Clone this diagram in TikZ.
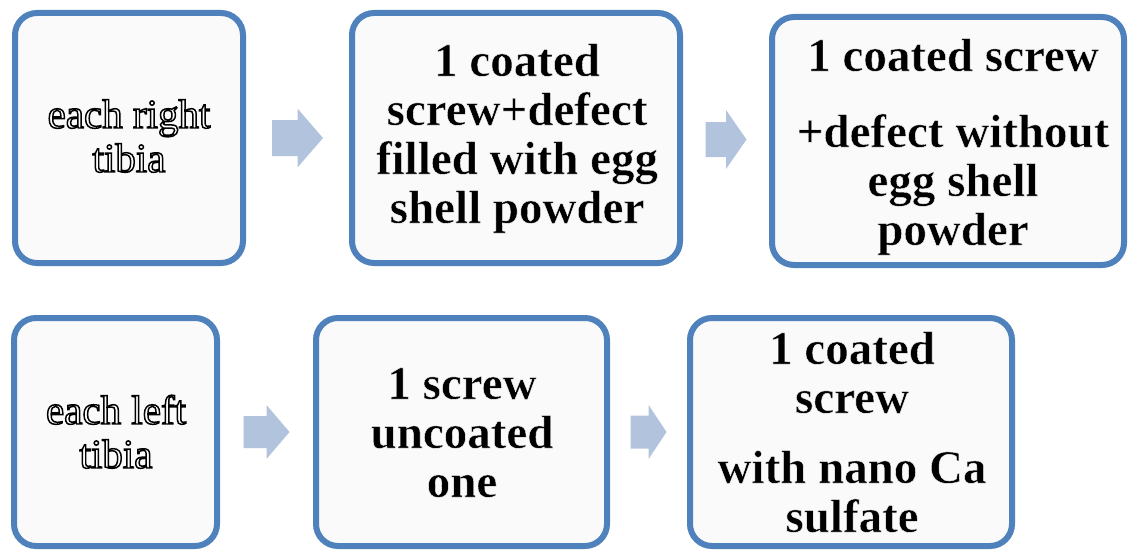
\documentclass[tikz,border=0pt]{standalone}
\usepackage{fontspec}
\setmainfont{Liberation Serif}
\usetikzlibrary{calc}
\definecolor{cardblue}{RGB}{79,129,189}
\definecolor{cardfill}{RGB}{250,250,250}
\definecolor{arrowfill}{RGB}{178,195,222}
% white glyphs with a black rim
\newcommand{\hollow}[1]{\special{pdf:bcolor [1] [0]}#1\special{pdf:ecolor}}
% black glyphs with a white rim
\newcommand{\heavy}[1]{\special{pdf:bcolor [0] [1]}#1\special{pdf:ecolor}}
\tikzset{
  stepcard/.style={draw=cardblue,line width=6pt,rounded corners=22pt,fill=cardfill,inner sep=0pt},
  % FakeBold fills and strokes the glyphs, giving the rim
  plainlabel/.style={align=center,anchor=base,inner sep=0pt,
    font=\fontsize{41}{44}\selectfont\addfontfeatures{FakeBold=3.6}},
  boldlabel/.style={align=center,anchor=base,inner sep=0pt,
    font=\fontsize{47}{49}\selectfont\bfseries\addfontfeatures{FakeBold=0.8}},
}
\begin{document}
\begin{tikzpicture}[x=1pt,y=-1pt]
\useasboundingbox (0,0) rectangle (1130,551);
% right tibia row
\node[stepcard,minimum width=228pt,minimum height=250pt] (b1) at (129,138) {};
\node[stepcard,minimum width=328pt,minimum height=250pt] (b2) at (516,138) {};
\node[stepcard,minimum width=352pt,minimum height=248pt] (b3) at (948,141) {};
% left tibia row
\node[stepcard,minimum width=203pt,minimum height=228pt] (b4) at (115.5,432) {};
\node[stepcard,minimum width=291pt,minimum height=228pt] (b5) at (461.5,432) {};
\node[stepcard,minimum width=322pt,minimum height=228pt] (b6) at (851,432) {};
% labels, placed by the baseline of their last line
\node[plainlabel] (t1) at (129,172) {\hollow{each right\\tibia}};
\node[boldlabel] (t2) at (517,223) {\heavy{1 coated\\screw+defect\\filled with egg\\shell powder}};
\node[boldlabel] (t3) at (953,245) {\heavy{1 coated screw\\[27pt]+defect without\\egg shell\\powder}};
\node[plainlabel] (t4) at (116,468) {\hollow{each left\\tibia}};
\node[boldlabel] (t5) at (462,497) {\heavy{1 screw\\uncoated\\one}};
\node[boldlabel] (t6) at (852,532) {\heavy{1 coated\\screw\\[21pt]with nano Ca\\sulfate}};
% block arrows between the cards
\foreach \p/\q/\l/\w/\s in {b1/b2/51/59/36,b2/b3/41/59/35,b4/b5/46/54/32,b5/b6/36/54/33}
  \fill[arrowfill,shift={($(\p.east)!.5!(\q.west)$)}]
    (-\l/2,-\s/2) -- (0,-\s/2) -- (0,-\w/2) -- (\l/2,0) -- (0,\w/2) -- (0,\s/2) -- (-\l/2,\s/2) -- cycle;
\end{tikzpicture}
\end{document}
